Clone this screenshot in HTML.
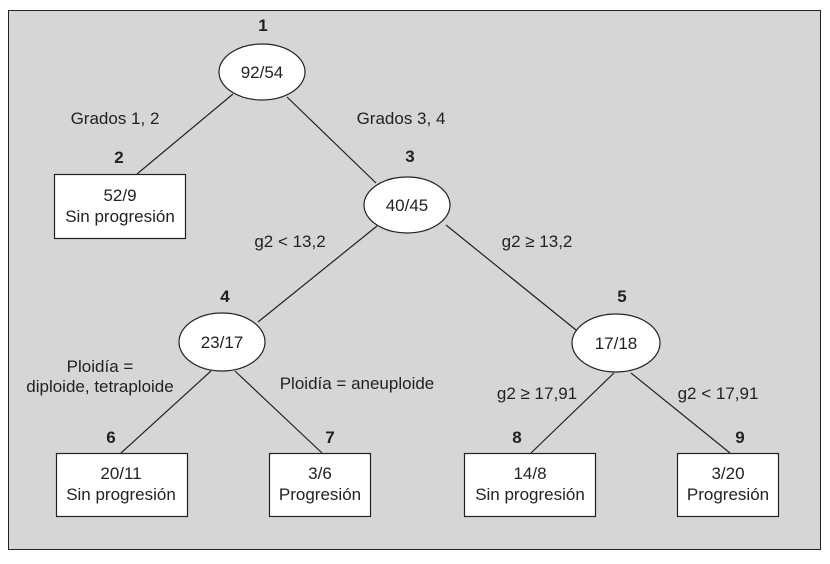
<!DOCTYPE html>
<html><head><meta charset="utf-8"><style>
html,body{margin:0;padding:0;background:#fff;}
svg{display:block;}
text{font-family:"Liberation Sans",sans-serif;font-size:17px;fill:#222;}
.b{font-weight:bold;}
</style></head><body>
<svg width="830" height="564" viewBox="0 0 830 564">
<rect x="8.5" y="10.5" width="812" height="539" fill="#d6d6d6" stroke="#222" stroke-width="1"/>
<g stroke="#222" stroke-width="1.2" fill="none">
<line x1="233" y1="94" x2="137" y2="174"/>
<line x1="287" y1="97" x2="376" y2="183"/>
<line x1="377" y1="226" x2="258" y2="322"/>
<line x1="446" y1="225" x2="576" y2="330"/>
<line x1="211" y1="371" x2="121" y2="453"/>
<line x1="235" y1="371" x2="322" y2="453"/>
<line x1="614" y1="373" x2="531" y2="453"/>
<line x1="631" y1="373" x2="730" y2="453"/>
</g>
<g stroke="#222" stroke-width="1.2" fill="#fff">
<ellipse cx="262" cy="72" rx="43" ry="28"/>
<ellipse cx="407" cy="205" rx="43" ry="28"/>
<ellipse cx="222" cy="342" rx="43" ry="29"/>
<ellipse cx="616" cy="343" rx="44" ry="29"/>
<rect x="54.5" y="174.5" width="131" height="64"/>
<rect x="56.5" y="453.5" width="131" height="63"/>
<rect x="269.5" y="453.5" width="101" height="63"/>
<rect x="464.5" y="453.5" width="131" height="63"/>
<rect x="677.5" y="453.5" width="101" height="63"/>
</g>
<g text-anchor="middle">
<text x="263" y="31" class="b">1</text>
<text x="262" y="78">92/54</text>
<text x="119" y="163" class="b">2</text>
<text x="120" y="201">52/9</text>
<text x="120" y="222">Sin progresión</text>
<text x="410" y="162" class="b">3</text>
<text x="407" y="211">40/45</text>
<text x="225" y="302" class="b">4</text>
<text x="222" y="348">23/17</text>
<text x="622" y="302" class="b">5</text>
<text x="616" y="349">17/18</text>
<text x="111" y="443" class="b">6</text>
<text x="121" y="479">20/11</text>
<text x="121" y="500">Sin progresión</text>
<text x="330" y="443" class="b">7</text>
<text x="320" y="479">3/6</text>
<text x="320" y="500">Progresión</text>
<text x="517" y="443" class="b">8</text>
<text x="530" y="479">14/8</text>
<text x="530" y="500">Sin progresión</text>
<text x="740" y="443" class="b">9</text>
<text x="728" y="479">3/20</text>
<text x="728" y="500">Progresión</text>
<text x="115" y="124">Grados 1, 2</text>
<text x="401" y="124">Grados 3, 4</text>
<text x="290" y="247">g2 &lt; 13,2</text>
<text x="537" y="247">g2 ≥ 13,2</text>
<text x="100" y="372">Ploidía =</text>
<text x="100" y="392">diploide, tetraploide</text>
<text x="357" y="389">Ploidía = aneuploide</text>
<text x="537" y="399">g2 ≥ 17,91</text>
<text x="718" y="399">g2 &lt; 17,91</text>
</g>
</svg>
</body></html>
